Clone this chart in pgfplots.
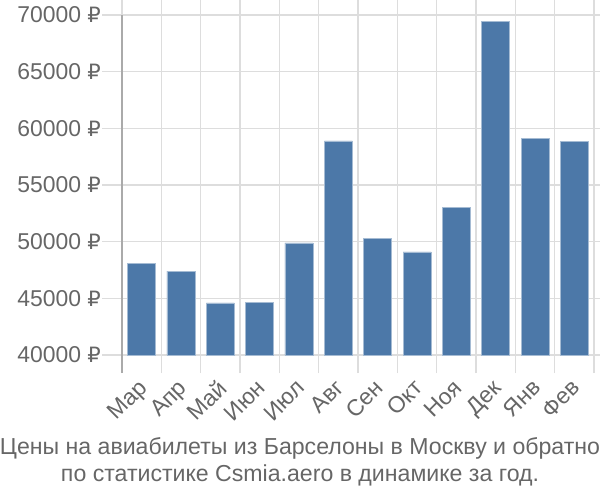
\documentclass[border=0pt]{standalone}
\usepackage{fontspec}
\setmainfont{Liberation Sans}
\newfontfamily\rubfont{DejaVu Sans}[Scale=0.92]
\newcommand{\rub}{{\rubfont ₽}}
\usepackage{pgfplots}
\pgfplotsset{compat=1.18}
\definecolor{barc}{HTML}{4C78A8}
\definecolor{txt}{HTML}{666666}
\definecolor{gridc}{HTML}{DDDDDD}
\definecolor{axc}{HTML}{AAAAAA}
\begin{document}
\begin{tikzpicture}
\begin{axis}[
  name=ax,
  scale only axis,
  width=472bp, height=340bp,
  xmin=0, xmax=12,
  ymin=40000, ymax=70000,
  scaled y ticks=false,
  axis line style={draw=none},
  font=\fontsize{23}{26}\selectfont,
  ytick={40000,45000,...,70000},
  yticklabels={40000 \rub,45000 \rub,50000 \rub,55000 \rub,60000 \rub,65000 \rub,70000 \rub},
  yticklabel style={text=txt, inner sep=1bp},
  ymajorgrids,
  xtick={0.5,1.5,...,11.5},
  xticklabels={Мар,Апр,Май,Июн,Июл,Авг,Сен,Окт,Ноя,Дек,Янв,Фев},
  xticklabel style={text=txt, rotate=45, anchor=north east, inner sep=1bp, xshift=-4bp, yshift=2bp},
  minor xtick={0,1,...,12},
  xminorgrids,
  tick align=outside,
  major tick length=20bp,
  minor tick length=18bp,
  major x tick style={draw=none},
  every tick/.style={draw=gridc, line width=1.2bp},
  grid style={draw=gridc, line width=1.2bp},
  clip=false,
]
\addplot[ybar, bar width=28bp, fill=barc, draw=barc!50!white, line width=0.6bp]
  coordinates {(0.5,48100) (1.5,47400) (2.5,44600) (3.5,44650) (4.5,49900) (5.5,58900)
               (6.5,50300) (7.5,49100) (8.5,53000) (9.5,69400) (10.5,59100) (11.5,58850)};
\draw[axc, line width=1.5bp] (axis cs:0,70000) -- ([yshift=-18bp]axis cs:0,40000);
\end{axis}
\node[text=txt, font=\fontsize{23.2}{27}\selectfont, anchor=base]
  at ([xshift=178bp,yshift=-99bp]ax.south west) {Цены на авиабилеты из Барселоны в Москву и обратно};
\node[text=txt, font=\fontsize{23.2}{27}\selectfont, anchor=base]
  at ([xshift=178bp,yshift=-126bp]ax.south west) {по статистике Csmia.aero в динамике за год.};
\pgfresetboundingbox
\path[use as bounding box] ([xshift=-122bp,yshift=-145bp]ax.south west) rectangle ([xshift=6bp,yshift=15bp]ax.north east);
\end{tikzpicture}
\end{document}
